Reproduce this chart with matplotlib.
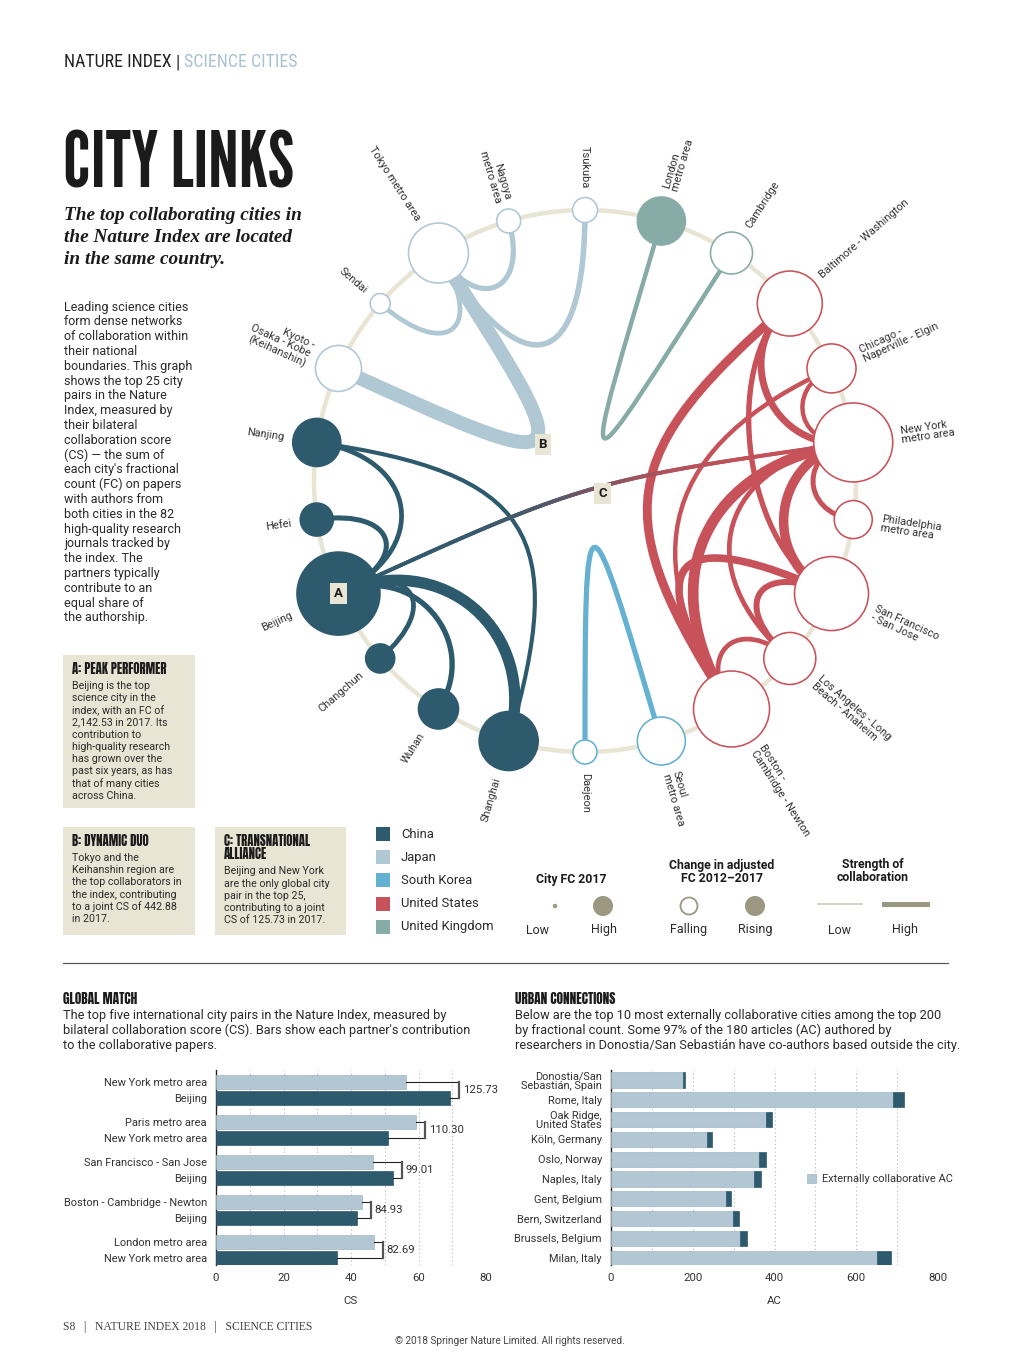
import numpy as np
import matplotlib
matplotlib.use('Agg')
import matplotlib.pyplot as plt
from matplotlib.patches import Circle, Rectangle, PathPatch
from matplotlib.path import Path
from matplotlib.collections import LineCollection
from matplotlib.colors import to_rgb
from matplotlib.textpath import TextPath
from matplotlib.font_manager import FontProperties
import matplotlib.font_manager as fm

# ---------------------------------------------------------------- DATA
cities = ['Tsukuba', 'Nagoya', 'Tokyo', 'Sendai', 'Keihanshin', 'Nanjing', 'Hefei',
          'Beijing', 'Changchun', 'Wuhan', 'Shanghai', 'Daejeon', 'Seoul', 'Boston',
          'Los Angeles', 'San Francisco', 'Philadelphia', 'New York', 'Chicago',
          'Baltimore', 'Cambridge', 'London']
city_labels = ['Tsukuba', 'Nagoya\nmetro area', 'Tokyo metro area', 'Sendai',
               'Kyoto -\nOsaka - Kobe\n(Keihanshin)', 'Nanjing', 'Hefei', 'Beijing',
               'Changchun', 'Wuhan', 'Shanghai', 'Daejeon', 'Seoul\nmetro area',
               'Boston -\nCambridge - Newton', 'Los Angeles - Long\nBeach - Anaheim',
               'San Francisco\n- San Jose', 'Philadelphia\nmetro area',
               'New York\nmetro area', 'Chicago -\nNaperville - Elgin',
               'Baltimore - Washington', 'Cambridge', 'London\nmetro area']
city_country = ['Japan'] * 5 + ['China'] * 6 + ['South Korea'] * 2 + \
               ['United States'] * 7 + ['United Kingdom'] * 2
city_fc = [194, 179, 1120, 124, 658, 717, 339, 2142.53, 262, 498, 1083, 179, 717,
           1796, 841, 1703, 449, 1941, 747, 1314, 549, 717]
city_rising = [False] * 5 + [True] * 6 + [False] * 2 + [False] * 7 + [False, True]

link_a = ['Tokyo', 'Tokyo', 'Tokyo', 'Tokyo',
          'Beijing', 'Beijing', 'Beijing', 'Beijing', 'Beijing', 'Nanjing',
          'Daejeon', 'London', 'Beijing',
          'Boston', 'Boston', 'Boston', 'Boston', 'Boston', 'New York', 'New York',
          'New York', 'New York', 'New York', 'San Francisco', 'San Francisco']
link_b = ['Keihanshin', 'Tsukuba', 'Nagoya', 'Sendai',
          'Shanghai', 'Nanjing', 'Hefei', 'Changchun', 'Wuhan', 'Shanghai',
          'Seoul', 'Cambridge', 'New York',
          'New York', 'Baltimore', 'San Francisco', 'Chicago', 'Los Angeles',
          'San Francisco', 'Baltimore', 'Philadelphia', 'Chicago', 'Los Angeles',
          'Los Angeles', 'Baltimore']
link_cs = [442.88, 175, 165, 150,
           360, 150, 160, 150, 170, 130,
           165, 140, 125.73,
           340, 280, 240, 140, 150, 300, 220, 160, 140, 150, 190, 170]

countries = ['China', 'Japan', 'South Korea', 'United States', 'United Kingdom']

gm_city_a = ['New York metro area', 'Paris metro area', 'San Francisco - San Jose',
             'Boston - Cambridge - Newton', 'London metro area']
gm_city_b = ['Beijing', 'New York metro area', 'Beijing', 'Beijing', 'New York metro area']
gm_cs_a = [56.30, 59.30, 46.50, 43.30, 46.80]
gm_cs_b = [69.43, 51.00, 52.51, 41.63, 35.89]
gm_total = [125.73, 110.30, 99.01, 84.93, 82.69]

uc_city = ['Donostia/San\nSebastián, Spain', 'Rome, Italy', 'Oak Ridge,\nUnited States',
           'Köln, Germany', 'Oslo, Norway', 'Naples, Italy', 'Gent, Belgium',
           'Bern, Switzerland', 'Brussels, Belgium', 'Milan, Italy']
uc_external = [175, 690, 380, 236, 362, 351, 281, 298, 316, 651]
uc_total = [180, 716, 395, 246, 378, 368, 294, 314, 333, 686]

# ---------------------------------------------------------------- STYLE / LAYOUT
country_color = {'China': '#2e5a6d', 'Japan': '#b0c7d4', 'South Korea': '#64b1d2',
                 'United States': '#c8525a', 'United Kingdom': '#87aba6'}
link_bend = [1.0, 0.6, 0.27, 0.33,
             0.42, 0.38, 0.3, 0.3, 0.3, 0.8,
             1.0, 1.1, 1.0,
             0.56, 0.85, 0.65, 0.68, 0.25, 0.3, 0.3, 0.2, 0.2, 0.5, 0.3, 0.35]
BEIGE = '#e8e5d4'
OLIVE = '#9b9781'
TXT = '#333333'

_avail = {f.name for f in fm.fontManager.ttflist}


def pick(*cands, default='DejaVu Sans'):
    for c in cands:
        if c in _avail:
            return c
    return default


SANS = pick('Roboto', 'Lato', 'Open Sans', 'Noto Sans')
COND = pick('Roboto Condensed', 'Barlow Condensed', 'Archivo Narrow',
            'Liberation Sans Narrow', default=SANS)
TITLE = pick('League Gothic', 'Antonio', 'Big Shoulders Display', 'Oswald',
             'Bebas Neue', 'Saira Extra Condensed', 'Sofia Sans Extra Condensed',
             'Barlow Condensed', 'Asap Condensed', 'Archivo Narrow', default=COND)
HEAD = pick('Anton', 'Fjalla One', 'Oswald', 'Barlow Condensed', 'Saira Condensed',
            default=COND)
SERIF = pick('Liberation Serif', 'DejaVu Serif')

W, H = 1020, 1355
fig = plt.figure(figsize=(W / 100, H / 100), dpi=100)
fig.patch.set_facecolor('white')
ax = fig.add_axes([0, 0, 1, 1])
ax.set_xlim(0, W)
ax.set_ylim(H, 0)
ax.axis('off')
R_ = fig.canvas.get_renderer()


def px(v):
    return v * 0.72


def T(x, y, s, size, family=None, weight='normal', color=TXT, ha='left', va='baseline', **kw):
    return ax.text(x, y, s, fontsize=size, family=family or SANS, fontweight=weight,
                   color=color, ha=ha, va=va, **kw)


def width_of(t):
    return t.get_window_extent(renderer=R_).width


def cap_ratio(family, weight):
    tp = TextPath((0, 0), 'H', size=100, prop=FontProperties(family=family, weight=weight))
    return tp.get_extents().height / 100.0


def fit_text(t, target_w, target_cap, family, weight):
    s0 = t.get_fontsize()
    s_w = s0 * target_w / width_of(t)
    s_h = target_cap / (cap_ratio(family, weight) * 100 / 72)
    t.set_fontsize(min(s_w, s_h))
    return min(s_w, s_h)


# ---------------------------------------------------------------- HEADER
hdr = [('NATURE INDEX', '#222222'), ('|', '#222222'), ('SCIENCE CITIES', '#a9c2d0')]
tmp = T(64, 67, 'NATURE INDEX | SCIENCE CITIES', 13, COND)
fs_h = fit_text(tmp, 239, 12.7, COND, 'normal')
tmp.remove()
x = 64
for s, col in hdr:
    t = T(x, 67, s, fs_h, COND, 'normal', col)
    x += width_of(t) + 4

tt = T(63, 188, 'CITY LINKS', 60, TITLE, 'bold', '#1b1b1b')
fit_text(tt, 231, 60, TITLE, 'bold')

sub = ['The top collaborating cities in', 'the Nature Index are located',
       'in the same country.']
st = T(64, 220, sub[0], 14, SERIF, 'bold', '#1b1b1b', style='italic')
fs_sub = min(14 * 238 / width_of(st), 15)
st.set_fontsize(fs_sub)
for i, s in enumerate(sub[1:]):
    T(64, 242 + 21.5 * i, s, fs_sub, SERIF, 'bold', '#1b1b1b', style='italic')

para = ['Leading science cities', 'form dense networks', 'of collaboration within',
        'their national', 'boundaries. This graph', 'shows the top 25 city',
        'pairs in the Nature', 'Index, measured by', 'their bilateral',
        'collaboration score', '(CS) \u2014 the sum of', "each city's fractional",
        'count (FC) on papers', 'with authors from', 'both cities in the 82',
        'high-quality research', 'journals tracked by', 'the index. The',
        'partners typically', 'contribute to an', 'equal share of', 'the authorship.']
for i, s in enumerate(para):
    T(64, 307 + 14.8 * i, s, 9.0, va='center', color='#2a2a2a')

# info boxes
boxes = [
    (63, 655, 132, 153, ['A: PEAK PERFORMER'],
     ['Beijing is the top', 'science city in the', 'index, with an FC of',
      '2,142.53 in 2017. Its', 'contribution to', 'high-quality research',
      'has grown over the', 'past six years, as has', 'that of many cities',
      'across China.']),
    (63, 827, 132, 108, ['B: DYNAMIC DUO'],
     ['Tokyo and the', 'Keihanshin region are', 'the top collaborators in',
      'the index, contributing', 'to a joint CS of 442.88', 'in 2017.']),
    (215, 827, 131, 108, ['C: TRANSNATIONAL', 'ALLIANCE'],
     ['Beijing and New York', 'are the only global city', 'pair in the top 25,',
      'contributing to a joint', 'CS of 125.73 in 2017.']),
]
box_title_w = {'A: PEAK PERFORMER': 112, 'B: DYNAMIC DUO': 94,
               'C: TRANSNATIONAL': 108, 'ALLIANCE': 52}
for bx, by, bw, bh, title, body in boxes:
    ax.add_patch(Rectangle((bx, by), bw, bh, fc=BEIGE, ec='none', zorder=0))
    yy = by + 18.5
    for s in title:
        t = T(bx + 9, yy, s, 11, HEAD, 'normal', '#1b1b1b', va='baseline')
        fit_text(t, box_title_w[s], 11.0, HEAD, 'normal')
        yy += 13.5
    yy -= 1
    for s in body:
        T(bx + 9, yy, s, 7.7, va='center', color='#2a2a2a')
        yy += 12.2

# ---------------------------------------------------------------- CHORD DIAGRAM
cx, cy, RR = 585, 481, 271
n = len(cities)
ang = {c: 90 + i * 360 / n for i, c in enumerate(cities)}
pos = {c: np.array([cx + RR * np.cos(np.radians(ang[c])),
                    cy - RR * np.sin(np.radians(ang[c]))]) for c in cities}
NODE_K = 41.5 / np.sqrt(2142.53)
rad = {c: NODE_K * np.sqrt(f) for c, f in zip(cities, city_fc)}
country_of = dict(zip(cities, city_country))
center = np.array([cx, cy])
LW_K = 14 / 442.88

ax.add_patch(Circle((cx, cy), RR, fill=False, ec=BEIGE, lw=px(4.5), zorder=1))


def bez_pts(a, b, k):
    p0, p3 = pos[a], pos[b]
    c1 = p0 + k * (center - p0)
    c2 = p3 + k * (center - p3)
    return p0, c1, c2, p3


def bez_eval(pts, t):
    p0, c1, c2, p3 = pts
    t = np.asarray(t)[:, None]
    return ((1 - t) ** 3) * p0 + 3 * ((1 - t) ** 2) * t * c1 + 3 * (1 - t) * t ** 2 * c2 + t ** 3 * p3


order = np.argsort(link_cs)[::-1]
for i in order:
    a, b, cs, k = link_a[i], link_b[i], link_cs[i], link_bend[i]
    pts = bez_pts(a, b, k)
    lw = px(cs * LW_K)
    ca, cb = country_of[a], country_of[b]
    if ca == cb:
        path = Path(list(pts), [Path.MOVETO, Path.CURVE4, Path.CURVE4, Path.CURVE4])
        ax.add_patch(PathPatch(path, fill=False, ec=country_color[ca], lw=lw,
                               capstyle='butt', zorder=2))
    else:
        ts = np.linspace(0, 1, 300)
        xy = bez_eval(pts, ts)
        segs = np.stack([xy[:-1], xy[1:]], axis=1)
        tm = (ts[:-1] + ts[1:]) / 2
        f = 1 / (1 + np.exp(-(tm - 0.52) * 9))
        c0, c1_ = np.array(to_rgb(country_color[ca])), np.array(to_rgb(country_color[cb]))
        cols = (1 - f)[:, None] * c0 + f[:, None] * c1_
        ax.add_collection(LineCollection(segs, colors=cols, linewidths=lw,
                                         capstyle='round', zorder=2))

for c, lab, rising in zip(cities, city_labels, city_rising):
    col = country_color[country_of[c]]
    ax.add_patch(Circle(pos[c], rad[c], fc=col if rising else 'white', ec=col,
                        lw=px(1.6), zorder=4))
    th = ang[c] % 360
    rr = RR + rad[c] + 9
    lx = cx + rr * np.cos(np.radians(th))
    ly = cy - rr * np.sin(np.radians(th))
    if 90 <= th < 270:
        rot, ha = th - 180, 'right'
    else:
        rot, ha = (th if th < 90 else th - 360), 'left'
    ax.text(lx, ly, lab, fontsize=7.9, family=SANS, color=TXT, rotation=rot,
            rotation_mode='anchor', ha=ha, va='center', multialignment=ha,
            linespacing=1.0, zorder=5)

# call-out letters
labA = pos['Beijing']
ab = bez_eval(bez_pts('Tokyo', 'Keihanshin', 1.0), [0.5])[0] + np.array([7, 6])
ac = bez_eval(bez_pts('Beijing', 'New York', 1.0), [0.5])[0] + np.array([15, 3])
for (lx, ly), s in [(labA, 'A'), (ab, 'B'), (ac, 'C')]:
    ax.text(lx, ly, s, fontsize=9.5, family=SANS, fontweight='bold', color='#1b1b1b',
            ha='center', va='center', zorder=6,
            bbox=dict(boxstyle='square,pad=0.3', fc=BEIGE, ec='none'))

# ---------------------------------------------------------------- LEGEND
for i, c in enumerate(countries):
    yy = 834 + 23.2 * i
    ax.add_patch(Rectangle((376, yy - 7), 14, 14, fc=country_color[c], ec='none'))
    T(401, yy, c, 9.4, va='center', color='#2a2a2a')

T(571, 880, 'City FC 2017', 8.8, weight='bold', ha='center', va='center', color='#1b1b1b')
T(722, 872, 'Change in adjusted\nFC 2012\u20132017', 8.8, weight='bold', ha='center',
  va='center', color='#1b1b1b', linespacing=1.05)
T(873, 871, 'Strength of\ncollaboration', 8.8, weight='bold', ha='center', va='center',
  color='#1b1b1b', linespacing=1.0)
ax.add_patch(Circle((555, 906), 2.2, fc=OLIVE, ec='none'))
ax.add_patch(Circle((603, 906), 10, fc=OLIVE, ec='none'))
ax.add_patch(Circle((689, 906), 8.5, fc='white', ec=OLIVE, lw=px(1.8)))
ax.add_patch(Circle((755, 906), 10, fc=OLIVE, ec='none'))
ax.plot([818, 862], [904, 904], color='#c9c6b3', lw=px(1.5))
ax.plot([884, 927], [904, 904], color=OLIVE, lw=px(5))
for xx, s in [(538, 'Low'), (604, 'High'), (689, 'Falling'), (755, 'Rising'),
              (840, 'Low'), (905, 'High')]:
    T(xx, 930, s, 9, ha='center', va='center', color='#2a2a2a')

# ---------------------------------------------------------------- LOWER SECTION
ax.plot([63, 948], [963, 963], color='#555555', lw=px(1.2))
t = T(63, 1004, 'GLOBAL MATCH', 11, HEAD, 'normal', '#1b1b1b')
fit_text(t, 88, 11.5, HEAD, 'normal')
t = T(515, 1004, 'URBAN CONNECTIONS', 11, HEAD, 'normal', '#1b1b1b')
fit_text(t, 123, 11.5, HEAD, 'normal')
gm_desc = ['The top five international city pairs in the Nature Index, measured by',
           "bilateral collaboration score (CS). Bars show each partner's contribution",
           'to the collaborative papers.']
uc_desc = ['Below are the top 10 most externally collaborative cities among the top 200',
           'by fractional count. Some 97% of the 180 articles (AC) authored by',
           'researchers in Donostia/San Sebasti\u00e1n have co-authors based outside the city.']
for i, s in enumerate(gm_desc):
    T(63, 1015 + 15 * i, s, 9.2, va='center', color='#2a2a2a')
for i, s in enumerate(uc_desc):
    T(515, 1015 + 15 * i, s, 9.2, va='center', color='#2a2a2a')

LIGHT = '#b2c7d3'
DARK = '#2e5a6d'
# --- Global match
ax1 = fig.add_axes([216 / W, 90 / H, 270 / W, 195 / H])
ya = [12 + 40 * g for g in range(len(gm_cs_a))]
yb = [28 + 40 * g for g in range(len(gm_cs_b))]
ax1.barh(ya, gm_cs_a, height=14, color=LIGHT, edgecolor='#9fb7c4', linewidth=0.5, zorder=3)
ax1.barh(yb, gm_cs_b, height=14, color=DARK, edgecolor=DARK, linewidth=0.5, zorder=3)
for a, b, tot, y1, y2 in zip(gm_cs_a, gm_cs_b, gm_total, ya, yb):
    bxp = max(a, b) + 2.6
    ax1.plot([a, bxp], [y1, y1], color='#222', lw=0.8, zorder=4, clip_on=False)
    ax1.plot([b, bxp], [y2, y2], color='#222', lw=0.8, zorder=4, clip_on=False)
    ax1.plot([bxp, bxp], [y1, y2], color='#555', lw=1.6, zorder=4, clip_on=False,
             solid_capstyle='projecting')
    ax1.text(bxp + 1.1, (y1 + y2) / 2, f'{tot:.2f}', fontsize=8.2, family=SANS,
             color=TXT, va='center', ha='left')
ax1.set_xlim(0, 80)
ax1.set_ylim(195, 0)
ax1.set_yticks(ya + yb)
ax1.set_yticklabels(gm_city_a + gm_city_b)
ax1.set_xticks([0, 20, 40, 60, 80])
ax1.set_xticks([10, 30, 50, 70], minor=True)
ax1.set_xlabel('CS', fontsize=8.2, family=SANS, color=TXT, labelpad=9)

# --- Urban connections
ax2 = fig.add_axes([611 / W, 90 / H, 327 / W, 195 / H])
yu = np.arange(len(uc_city))
ext = np.array(uc_external)
tot = np.array(uc_total)
ax2.barh(yu, ext, height=0.77, color=LIGHT, edgecolor='#9fb7c4', linewidth=0.5,
         zorder=3, label='Externally collaborative AC')
ax2.barh(yu, tot - ext, left=ext, height=0.77, color=DARK, edgecolor=DARK,
         linewidth=0.5, zorder=3)
ax2.set_xlim(0, 800)
ax2.set_ylim(9.34, -0.505)
ax2.set_yticks(yu)
ax2.set_yticklabels(uc_city, linespacing=0.95)
ax2.set_xticks([0, 200, 400, 600, 800])
ax2.set_xticks([100, 300, 500, 700], minor=True)
ax2.set_xlabel('AC', fontsize=8.2, family=SANS, color=TXT, labelpad=9)
ax2.legend(loc='center left', bbox_to_anchor=(0.57, 0.44), frameon=False,
           prop={'family': SANS, 'size': 7.9}, handlelength=0.8, handleheight=0.8,
           handletextpad=0.5, labelcolor=TXT)

for a_ in (ax1, ax2):
    for s in ('top', 'right', 'bottom'):
        a_.spines[s].set_visible(False)
    a_.spines['left'].set_color('#222')
    a_.spines['left'].set_linewidth(1.0)
    a_.set_axisbelow(True)
    a_.grid(True, axis='x', which='both', ls=(0, (1, 2.5)), color='#b5b5b5', lw=0.8)
    a_.tick_params(axis='both', which='both', length=0)
    a_.tick_params(axis='y', pad=6.5, labelsize=7.9, labelcolor=TXT)
    a_.tick_params(axis='x', pad=6, labelsize=8.2, labelcolor=TXT)
    for lab in a_.get_yticklabels() + a_.get_xticklabels():
        lab.set_family(SANS)
    a_.set_facecolor('none')

# ---------------------------------------------------------------- FOOTER
T(63, 1327, 'S8   |   NATURE INDEX 2018   |   SCIENCE CITIES', 8.4, SERIF,
  color='#444444', va='center')
T(510, 1341, '\u00a9 2018 Springer Nature Limited. All rights reserved.', 7.2,
  color='#444444', ha='center', va='center')

fig.savefig('out.png', dpi=100, facecolor='white')
